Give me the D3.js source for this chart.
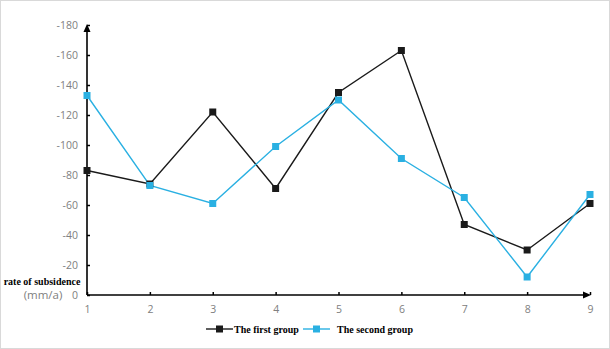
<!DOCTYPE html>
<html><head><meta charset="utf-8">
<script src="https://cdn.jsdelivr.net/npm/d3@7"></script>
<style>
html,body{margin:0;padding:0;background:#fff;}
svg{display:block;}
</style></head>
<body>
<svg id="chart" width="610" height="349"></svg>
<script>
const categories = [1, 2, 3, 4, 5, 6, 7, 8, 9];
const firstGroup = [-83, -74, -122, -71, -135, -163, -47, -30, -61];
const secondGroup = [-133, -73, -61, -99, -130, -91, -65, -12, -67];
const yTicks = [0, -20, -40, -60, -80, -100, -120, -140, -160, -180];
const seriesNames = ["The first group", "The second group"];
const seriesColors = ["#1a1a1a", "#2ab0e2"];

const svg = d3.select("#chart");
const W = 610, H = 349;
svg.append("rect").attr("x", 0.5).attr("y", 0.5).attr("width", W - 1).attr("height", H - 1)
  .attr("fill", "#fff").attr("stroke", "#d9d9d9").attr("stroke-width", 1);

const x = d3.scalePoint().domain(categories).range([87, 590]);
const y = d3.scaleLinear().domain([0, -180]).range([295, 25]);

const tickFont = "Open Sans, Noto Sans, sans-serif";

// y axis
const yAxis = d3.axisRight(y).tickValues(yTicks).tickSize(3).tickFormat(d => String(d));
const gy = svg.append("g").attr("transform", "translate(87,0)").call(yAxis);
gy.select(".domain").remove();
gy.selectAll(".tick line").attr("stroke", "#000").attr("stroke-width", 1.5);
gy.selectAll(".tick text").attr("x", -9).attr("text-anchor", "end").attr("fill", "#808080")
  .attr("font-family", tickFont).attr("font-size", 10.5).attr("dy", "0.35em");
svg.append("line").attr("x1", 87).attr("x2", 87).attr("y1", y(0)).attr("y2", y(-180) + 4)
  .attr("stroke", "#000").attr("stroke-width", 1.6);
svg.append("path").attr("d", `M87,${y(-180) - 1} L83.5,${y(-180) + 7} L90.5,${y(-180) + 7} Z`).attr("fill", "#000");

// x axis
const xAxis = d3.axisTop(x).tickSize(3).tickFormat(d => String(d));
const gx = svg.append("g").attr("transform", `translate(0,${y(0)})`).call(xAxis);
gx.select(".domain").remove();
gx.selectAll(".tick line").attr("stroke", "#000").attr("stroke-width", 1.5);
gx.selectAll(".tick text").attr("y", 14).attr("dy", "0.35em").attr("fill", "#808080")
  .attr("font-family", tickFont).attr("font-size", 10.5);
svg.append("line").attr("x1", 87).attr("x2", 588).attr("y1", y(0)).attr("y2", y(0))
  .attr("stroke", "#000").attr("stroke-width", 1.6);
svg.append("path").attr("d", `M591,${y(0)} L583,${y(0) - 3.5} L583,${y(0) + 3.5} Z`).attr("fill", "#000");

// axis title
svg.append("text").attr("x", 42).attr("y", 285).attr("text-anchor", "middle")
  .attr("font-family", "Liberation Serif, serif").attr("font-weight", "bold").attr("font-size", 10)
  .attr("fill", "#000").text("rate of subsidence");
svg.append("text").attr("x", 43).attr("y", 299).attr("text-anchor", "middle")
  .attr("font-family", tickFont).attr("font-size", 11.5).attr("fill", "#808080").text("(mm/a)");

// series
const series = [firstGroup, secondGroup];
const line = d3.line().x((d, i) => x(categories[i])).y(d => y(d));
series.forEach((vals, si) => {
  svg.append("path").datum(vals).attr("d", line).attr("fill", "none")
    .attr("stroke", seriesColors[si]).attr("stroke-width", 1.4);
});
series.forEach((vals, si) => {
  svg.append("g").selectAll("rect").data(vals).join("rect")
    .attr("x", (d, i) => x(categories[i]) - 3.5).attr("y", d => y(d) - 3.5)
    .attr("width", 7).attr("height", 7).attr("fill", seriesColors[si]);
});

// legend
const legendItems = [{lx: 206, tx: 234}, {lx: 303, tx: 337}];
legendItems.forEach((it, i) => {
  const g = svg.append("g");
  const ly = 329;
  g.append("line").attr("x1", it.lx).attr("x2", it.lx + 27).attr("y1", ly).attr("y2", ly)
    .attr("stroke", seriesColors[i]).attr("stroke-width", 1.4);
  g.append("rect").attr("x", it.lx + 13.5 - 3.5).attr("y", ly - 3.5).attr("width", 7).attr("height", 7)
    .attr("fill", seriesColors[i]);
  g.append("text").attr("x", it.tx).attr("y", ly).attr("dy", "0.35em")
    .attr("font-family", "Liberation Serif, serif").attr("font-weight", "bold").attr("font-size", 10)
    .attr("fill", "#000").text(seriesNames[i]);
});
</script>
</body></html>
